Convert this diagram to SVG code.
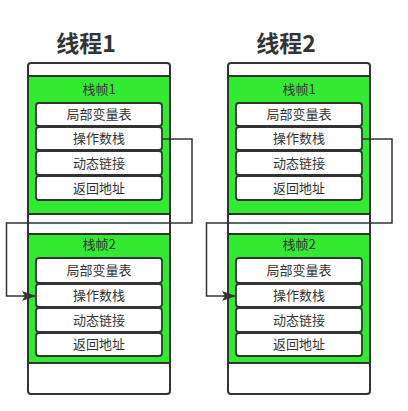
<svg xmlns="http://www.w3.org/2000/svg" width="408" height="411" viewBox="0 0 408 411">
<defs>
<style>
.outer{fill:#fff;stroke:#333;stroke-width:2}
.frame{fill:#33ea33;stroke:#333;stroke-width:2}
.cell{fill:#fff;stroke:#333;stroke-width:1.8}
.t{font-family:"Noto Sans CJK SC","Liberation Sans",sans-serif;font-size:13px;fill:#333;text-anchor:middle}
.title{font-family:"Noto Sans CJK SC","Liberation Sans",sans-serif;font-size:23px;font-weight:bold;fill:#333;text-anchor:middle}
.conn{fill:none;stroke:#333;stroke-width:1.5}
</style>
<marker id="arr" viewBox="0 0 14 10" refX="13" refY="5" markerWidth="14" markerHeight="10" markerUnits="userSpaceOnUse" orient="auto">
<path d="M0,0 L14,5 L0,10 L3,5 z" fill="#333"/>
</marker>
</defs>
<g id="thread1">
<text class="title" x="86" y="52">线程1</text>
<rect class="outer" x="28" y="63" width="142" height="331" rx="3"/>
<g id="t1-frame1">
<rect class="frame" x="28" y="76" width="142" height="138"/>
<text class="t" x="99" y="94">栈帧1</text>
<rect class="cell" x="36" y="103" width="126" height="23" rx="3"/>
<text class="t" x="99" y="119">局部变量表</text>
<rect class="cell" x="36" y="127" width="126" height="23" rx="3"/>
<text class="t" x="99" y="143">操作数栈</text>
<rect class="cell" x="36" y="151" width="126" height="24" rx="3"/>
<text class="t" x="99" y="168">动态链接</text>
<rect class="cell" x="36" y="176" width="126" height="24" rx="3"/>
<text class="t" x="99" y="193">返回地址</text>
</g>
<g id="t1-frame2">
<rect class="frame" x="28" y="234" width="142" height="129"/>
<text class="t" x="99" y="249">栈帧2</text>
<rect class="cell" x="36" y="258" width="126" height="25" rx="3"/>
<text class="t" x="99" y="275">局部变量表</text>
<rect class="cell" x="36" y="284" width="126" height="23" rx="3"/>
<text class="t" x="99" y="300">操作数栈</text>
<rect class="cell" x="36" y="308" width="126" height="24" rx="3"/>
<text class="t" x="99" y="325">动态链接</text>
<rect class="cell" x="36" y="333" width="126" height="23" rx="3"/>
<text class="t" x="99" y="349">返回地址</text>
</g>
</g>
<g id="thread2">
<text class="title" x="286" y="52">线程2</text>
<rect class="outer" x="228" y="63" width="142" height="331" rx="3"/>
<g id="t2-frame1">
<rect class="frame" x="228" y="76" width="142" height="138"/>
<text class="t" x="299" y="94">栈帧1</text>
<rect class="cell" x="236" y="103" width="126" height="23" rx="3"/>
<text class="t" x="299" y="119">局部变量表</text>
<rect class="cell" x="236" y="127" width="126" height="23" rx="3"/>
<text class="t" x="299" y="143">操作数栈</text>
<rect class="cell" x="236" y="151" width="126" height="24" rx="3"/>
<text class="t" x="299" y="168">动态链接</text>
<rect class="cell" x="236" y="176" width="126" height="24" rx="3"/>
<text class="t" x="299" y="193">返回地址</text>
</g>
<g id="t2-frame2">
<rect class="frame" x="228" y="234" width="142" height="129"/>
<text class="t" x="299" y="249">栈帧2</text>
<rect class="cell" x="236" y="258" width="126" height="25" rx="3"/>
<text class="t" x="299" y="275">局部变量表</text>
<rect class="cell" x="236" y="284" width="126" height="23" rx="3"/>
<text class="t" x="299" y="300">操作数栈</text>
<rect class="cell" x="236" y="308" width="126" height="24" rx="3"/>
<text class="t" x="299" y="325">动态链接</text>
<rect class="cell" x="236" y="333" width="126" height="23" rx="3"/>
<text class="t" x="299" y="349">返回地址</text>
</g>
</g>
<g id="connectors">
<path class="conn" d="M162,139 H192 V223 H6.5 V296 H35" marker-end="url(#arr)"/>
<path class="conn" d="M362,139 H392 V223 H206.5 V296 H235" marker-end="url(#arr)"/>
</g>
</svg>
